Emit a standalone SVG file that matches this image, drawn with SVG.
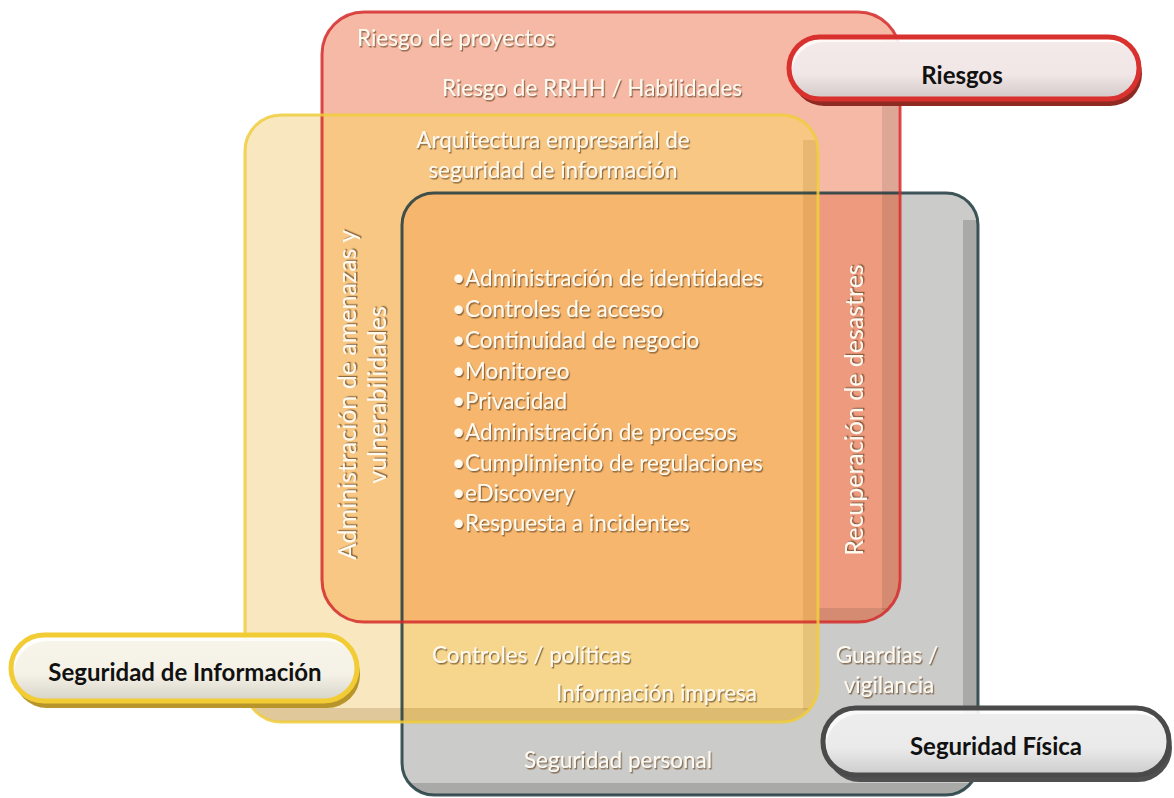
<svg xmlns="http://www.w3.org/2000/svg" xmlns:xlink="http://www.w3.org/1999/xlink" width="1174" height="798" viewBox="0 0 1174 798">
  <defs>
    <rect id="shR" x="322" y="12" width="578" height="610" rx="42"/>
    <rect id="shY" x="245" y="115" width="573" height="607" rx="36"/>
    <rect id="shG" x="402" y="193" width="576" height="602" rx="32"/>
    <clipPath id="cR"><use xlink:href="#shR"/></clipPath>
    <clipPath id="cY"><use xlink:href="#shY"/></clipPath>
    <clipPath id="cG"><use xlink:href="#shG"/></clipPath>
    <filter id="tsh" x="-10%" y="-30%" width="120%" height="160%">
      <feDropShadow dx="1.2" dy="1.5" stdDeviation="0.6" flood-color="#6b4a2a" flood-opacity="0.75"/>
    </filter>
    <linearGradient id="pillFill" x1="0" y1="0" x2="0" y2="1">
      <stop offset="0" stop-color="#ffffff"/>
      <stop offset="0.6" stop-color="#fbfbfb"/>
      <stop offset="1" stop-color="#d9d9d9"/>
    </linearGradient>
    <style>
      .lbl { font-family: Lato, "Liberation Sans", sans-serif; font-size: 22.5px; fill: #fffaf0; filter: url(#tsh); }
      .vert { font-size: 25px; }
      .pill { font-family: Lato, "Open Sans", sans-serif; font-weight: 700; font-size: 24px; fill: #111; text-anchor: middle; }
      .edge { fill: none; stroke-width: 3; }
    </style>
  </defs>

  <rect width="1174" height="798" fill="#ffffff"/>

  <!-- region fills -->
  <g id="gray-area">
    <use xlink:href="#shG" fill="#cbcbc9"/>
    <g clip-path="url(#cG)"><rect x="963" y="220" width="14" height="560" fill="#a9aaa8"/><rect x="402" y="783" width="576" height="12" fill="#a9aaa8"/></g>
  </g>
  <g id="red-area">
    <use xlink:href="#shR" fill="#f6b9a6"/>
    <g clip-path="url(#cR)"><use xlink:href="#shG" fill="#ee9a7f"/></g>
    <g clip-path="url(#cR)"><rect x="882" y="40" width="16" height="570" fill="#000" fill-opacity="0.1"/><rect x="322" y="608" width="578" height="14" fill="#000" fill-opacity="0.1"/></g>
  </g>
  <g id="yellow-area">
    <use xlink:href="#shY" fill="#f9e7c0"/>
    <g clip-path="url(#cY)"><use xlink:href="#shR" fill="#f8c783"/></g>
    <g clip-path="url(#cY)"><use xlink:href="#shG" fill="#f5d68c"/></g>
    <g clip-path="url(#cY)"><g clip-path="url(#cR)"><use xlink:href="#shG" fill="#f6b66d"/></g></g>
    <g clip-path="url(#cY)"><rect x="803" y="140" width="14" height="570" fill="#8a5a10" fill-opacity="0.14"/><rect x="245" y="708" width="573" height="14" fill="#8a5a10" fill-opacity="0.22"/></g>
  </g>

  <!-- outlines -->
  <g id="outlines">
    <use xlink:href="#shG" class="edge" stroke="#1f3b3f" stroke-opacity="0.85"/>
    <use xlink:href="#shR" class="edge" stroke="#d42a2a" stroke-opacity="0.85"/>
    <use xlink:href="#shY" class="edge" stroke="#f0cc3c" stroke-opacity="0.85"/>
  </g>

  <!-- region labels -->
  <g id="riesgos-labels">
    <text class="lbl" x="357" y="46">Riesgo de proyectos</text>
    <text class="lbl" x="592" y="96" text-anchor="middle">Riesgo de RRHH / Habilidades</text>
    <text class="lbl vert" x="855" y="410" text-anchor="middle" transform="rotate(-90 855 410)" dy="8">Recuperación de desastres</text>
  </g>
  <g id="seguridad-info-labels">
    <text class="lbl" x="553" y="148" text-anchor="middle">Arquitectura empresarial de</text>
    <text class="lbl" x="553" y="178" text-anchor="middle">seguridad de información</text>
    <text class="lbl vert" x="348" y="395" text-anchor="middle" transform="rotate(-90 348 395)" dy="8">Administración de amenazas y</text>
    <text class="lbl vert" x="378" y="395" text-anchor="middle" transform="rotate(-90 378 395)" dy="8">vulnerabilidades</text>
    <text class="lbl" x="432" y="663">Controles / políticas</text>
    <text class="lbl" x="757" y="701" text-anchor="end">Información impresa</text>
  </g>
  <g id="core-list">
    <text class="lbl" x="452" y="286">•Administración de identidades</text>
    <text class="lbl" x="452" y="317">•Controles de acceso</text>
    <text class="lbl" x="452" y="348">•Continuidad de negocio</text>
    <text class="lbl" x="452" y="379">•Monitoreo</text>
    <text class="lbl" x="452" y="409">•Privacidad</text>
    <text class="lbl" x="452" y="440">•Administración de procesos</text>
    <text class="lbl" x="452" y="471">•Cumplimiento de regulaciones</text>
    <text class="lbl" x="452" y="501">•eDiscovery</text>
    <text class="lbl" x="452" y="531">•Respuesta a incidentes</text>
  </g>
  <g id="fisica-labels">
    <text class="lbl" x="887" y="663" text-anchor="middle">Guardias /</text>
    <text class="lbl" x="889" y="693" text-anchor="middle">vigilancia</text>
    <text class="lbl" x="618" y="768" text-anchor="middle">Seguridad personal</text>
  </g>

  <!-- legend pills -->
  <g id="pill-riesgos">
    <rect x="792" y="42" width="350" height="64" rx="32" fill="#8e2a22"/>
    <rect x="789" y="37" width="350" height="62" rx="31" fill="url(#pillFill)" fill-opacity="0.9" stroke="#d8312e" stroke-width="5"/>
    <text class="pill" x="962" y="84">Riesgos</text>
  </g>
  <g id="pill-seguridad-informacion">
    <rect x="14" y="641" width="346" height="67" rx="33" fill="#b8952a"/>
    <rect x="11" y="635" width="346" height="66" rx="33" fill="url(#pillFill)" fill-opacity="0.9" stroke="#f2cc34" stroke-width="5"/>
    <text class="pill" x="185" y="681">Seguridad de Información</text>
  </g>
  <g id="pill-seguridad-fisica">
    <rect x="826" y="714" width="346" height="68" rx="34" fill="#505050"/>
    <rect x="823" y="708" width="346" height="67" rx="33" fill="url(#pillFill)" fill-opacity="0.9" stroke="#4a4a4a" stroke-width="5"/>
    <text class="pill" x="996" y="755">Seguridad Física</text>
  </g>
</svg>
